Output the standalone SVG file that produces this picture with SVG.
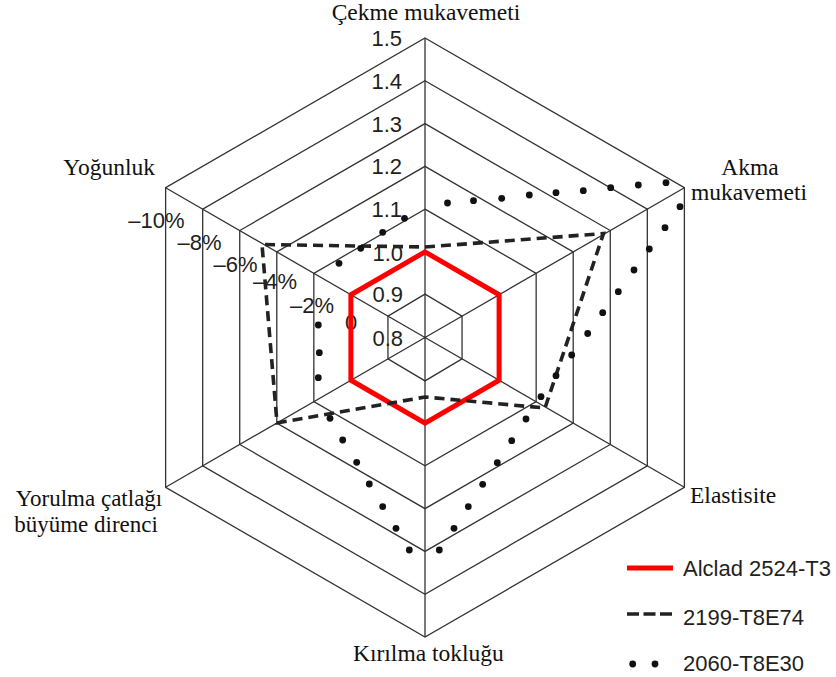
<svg xmlns="http://www.w3.org/2000/svg" width="836" height="677" viewBox="0 0 836 677">
<style>
.grid{fill:none;stroke:#333;stroke-width:1.3}
.num{font-family:"Liberation Sans",Arial,sans-serif;font-size:22px;fill:#231f20}
.ax{font-family:"Liberation Serif","Times New Roman",serif;font-size:23.5px;fill:#111}
.red{fill:none;stroke:#f00;stroke-width:5;stroke-linejoin:miter}
.dash{fill:none;stroke:#222;stroke-width:3.6;stroke-dasharray:10 6}
.dot{fill:#111}
</style>
<rect width="836" height="677" fill="#fff"/>
<g id="grid" class="grid">
<polygon points="425,294.107 462.054,316.107 462.054,358.893 425,380.893 387.946,358.893 387.946,316.107"/>
<polygon points="425,251.929 499.107,294.714 499.107,380.286 425,423.071 350.893,380.286 350.893,294.714"/>
<polygon points="425,209.143 536.161,273.321 536.161,401.679 425,465.857 313.839,401.679 313.839,273.321"/>
<polygon points="425,166.357 573.214,251.929 573.214,423.071 425,508.643 276.786,423.071 276.786,251.929"/>
<polygon points="425,123.571 610.268,230.536 610.268,444.464 425,551.429 239.732,444.464 239.732,230.536"/>
<polygon points="425,80.786 647.321,209.143 647.321,465.857 425,594.214 202.679,465.857 202.679,209.143"/>
<polygon points="425,38 684.375,187.75 684.375,487.25 425,637 165.625,487.25 165.625,187.75"/>
<path d="M425,337.5V38M425,337.5L684.375,187.75M425,337.5L684.375,487.25M425,337.5V637M425,337.5L165.625,487.25M425,337.5L165.625,187.75"/>
</g>
<g id="scale" class="num" text-anchor="end">
<text x="402" y="45.8">1.5</text>
<text x="402" y="89">1.4</text>
<text x="402" y="131.5">1.3</text>
<text x="402" y="174.3">1.2</text>
<text x="402" y="216.9">1.1</text>
<text x="403" y="260.5">1.0</text>
<text x="403" y="302">0.9</text>
<text x="403" y="346">0.8</text>
</g>
<g id="percent" class="num" text-anchor="middle">
<text x="156.5" y="228">–10%</text>
<text x="199.5" y="250">–8%</text>
<text x="235.5" y="272">–6%</text>
<text x="275" y="289">–4%</text>
<text x="312" y="313">–2%</text>
<text x="351" y="330">0</text>
</g>
<g id="series">
<polygon id="alclad" class="red" points="425,251.929 499.107,294.714 499.107,380.286 425,423.071 350.893,380.286 350.893,294.714"/>
<polygon id="s2199" class="dash" points="425,247 603.5,233.5 545,408 425,397 277,423 262,244.5"/>
<g id="s2060" class="dot">
<circle cx="339" cy="263.3" r="3.4"/><circle cx="360.7" cy="248.3" r="3.4"/><circle cx="382.7" cy="232.3" r="3.4"/><circle cx="404.5" cy="218.3" r="3.4"/>
<circle cx="447.5" cy="203" r="3.4"/><circle cx="473.5" cy="200.7" r="3.4"/><circle cx="501.7" cy="198.3" r="3.4"/><circle cx="529.3" cy="195" r="3.4"/><circle cx="556" cy="192.7" r="3.4"/><circle cx="583.3" cy="190.7" r="3.4"/><circle cx="610.7" cy="187.7" r="3.4"/><circle cx="638.3" cy="185" r="3.4"/><circle cx="666" cy="182.7" r="3.4"/>
<circle cx="680" cy="206.7" r="3.4"/><circle cx="665" cy="227.7" r="3.4"/><circle cx="649.3" cy="249" r="3.4"/><circle cx="634" cy="270" r="3.4"/><circle cx="618.3" cy="291.7" r="3.4"/><circle cx="602.7" cy="312.7" r="3.4"/><circle cx="587.7" cy="333.5" r="3.4"/><circle cx="571.7" cy="355" r="3.4"/><circle cx="556" cy="375.7" r="3.4"/><circle cx="541" cy="396.7" r="3.4"/><circle cx="526" cy="419" r="3.4"/><circle cx="511.7" cy="440.7" r="3.4"/><circle cx="497.3" cy="462.7" r="3.4"/><circle cx="482.7" cy="484.3" r="3.4"/><circle cx="468.3" cy="506.7" r="3.4"/><circle cx="454" cy="528.3" r="3.4"/><circle cx="439.3" cy="550" r="3.4"/>
<circle cx="409.3" cy="550" r="3.4"/><circle cx="396" cy="528.3" r="3.4"/><circle cx="382.7" cy="506.7" r="3.4"/><circle cx="369.3" cy="484" r="3.4"/><circle cx="356.7" cy="462.3" r="3.4"/><circle cx="342.7" cy="440" r="3.4"/><circle cx="330" cy="418.3" r="3.4"/>
<circle cx="318.3" cy="377.7" r="3.4"/><circle cx="319.3" cy="352.7" r="3.4"/><circle cx="318.3" cy="325" r="3.4"/>
</g>
</g>
<g id="axis-cekme" class="ax"><text x="426" y="20" text-anchor="middle">Çekme mukavemeti</text></g>
<g id="axis-akma" class="ax" text-anchor="middle"><text x="750" y="175">Akma</text><text x="749" y="200">mukavemeti</text></g>
<g id="axis-elastisite" class="ax"><text x="690" y="503.3">Elastisite</text></g>
<g id="axis-kirilma" class="ax"><text x="428.4" y="661" text-anchor="middle">Kırılma tokluğu</text></g>
<g id="axis-yorulma" class="ax" text-anchor="middle" style="font-size:23px"><text x="89" y="506">Yorulma çatlağı</text><text x="86" y="532">büyüme direnci</text></g>
<g id="axis-yogunluk" class="ax"><text x="155" y="175" text-anchor="end">Yoğunluk</text></g>
<g id="legend">
<line x1="627" y1="568" x2="673" y2="568" stroke="#f00" stroke-width="5"/>
<text class="num" x="683" y="575.5">Alclad 2524-T3</text>
<line x1="627" y1="614" x2="673" y2="614" stroke="#222" stroke-width="3.6" stroke-dasharray="12 4.5"/>
<text class="num" x="683" y="624.5">2199-T8E74</text>
<circle class="dot" cx="632.7" cy="664" r="3.4"/><circle class="dot" cx="655" cy="664" r="3.4"/>
<text class="num" x="683" y="670.5">2060-T8E30</text>
</g>
</svg>
